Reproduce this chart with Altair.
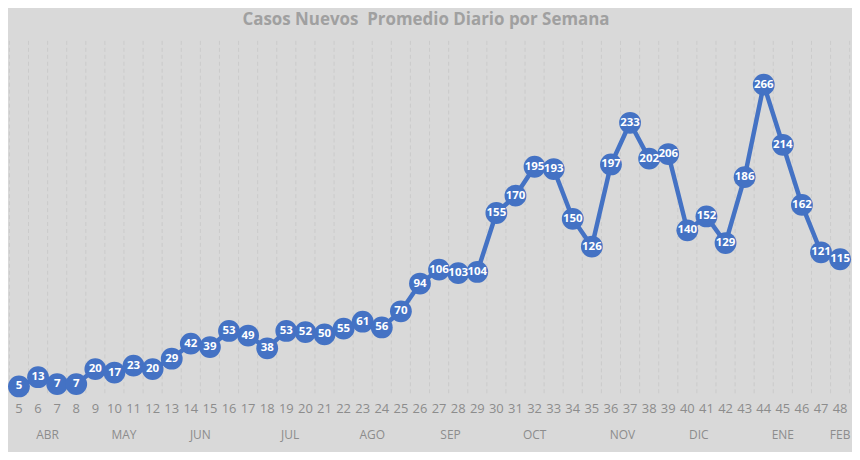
import altair as alt
import pandas as pd

weeks = list(range(5, 49))
cases = [5, 13, 7, 7, 20, 17, 23, 20, 29, 42, 39, 53, 49, 38, 53, 52, 50, 55, 61, 56,
         70, 94, 106, 103, 104, 155, 170, 195, 193, 150, 126, 197, 233, 202, 206, 140,
         152, 129, 186, 266, 214, 162, 121, 115]

months = ["ABR", "MAY", "JUN", "JUL", "AGO", "SEP", "OCT", "NOV", "DIC", "ENE", "FEB"]
month_pos = [6.5, 10.5, 14.5, 19.2, 23.5, 27.6, 32, 36.6, 40.6, 45, 48]

title_text = "Casos Nuevos\u00a0 Promedio Diario por Semana"

bg = "#d9d9d9"
blue = "#4472c4"
label_gray = "#8c8c8c"

df = pd.DataFrame({"semana": weeks, "casos": cases})
grid = pd.DataFrame({"g": [w - 0.5 for w in weeks] + [weeks[-1] + 0.5]})
mdf = pd.DataFrame({"mes": months, "pos": month_pos})

xs = alt.Scale(domain=[4.583, 48.57], nice=False, zero=False)
ys = alt.Scale(domain=[-50.8, 331.4], nice=False, zero=False)

base = alt.Chart(df)

gridlines = alt.Chart(grid).mark_rule(
    color="#cbcbcb", strokeDash=[4, 3], strokeWidth=1
).encode(
    x=alt.X("g:Q", scale=xs, axis=None),
    y=alt.value(32),
    y2=alt.value(388),
)

line = base.mark_line(color=blue, strokeWidth=4.5).encode(
    x=alt.X("semana:Q", scale=xs, axis=None),
    y=alt.Y("casos:Q", scale=ys, axis=None),
)

points = base.mark_circle(color=blue, opacity=1, size=480).encode(
    x=alt.X("semana:Q", scale=xs, axis=None),
    y=alt.Y("casos:Q", scale=ys, axis=None),
)

point_labels = base.mark_text(
    color="white", fontWeight="bold", fontSize=11.5, font="Open Sans", baseline="middle"
).encode(
    x=alt.X("semana:Q", scale=xs, axis=None),
    y=alt.Y("casos:Q", scale=ys, axis=None),
    text="casos:Q",
)

week_labels = base.mark_text(
    color=label_gray, fontSize=13, font="Open Sans", baseline="middle"
).encode(
    x=alt.X("semana:Q", scale=xs, axis=None),
    y=alt.value(402),
    text="semana:Q",
)

month_labels = alt.Chart(mdf).mark_text(
    color=label_gray, fontSize=12, font="Open Sans", baseline="middle"
).encode(
    x=alt.X("pos:Q", scale=xs, axis=None),
    y=alt.value(428),
    text="mes:N",
)

title = alt.Chart(pd.DataFrame({"t": [title_text]})).mark_text(
    color="#a0a0a0", fontSize=17, fontWeight="bold", font="Open Sans", baseline="middle"
).encode(
    x=alt.value(417),
    y=alt.value(11),
    text="t:N",
)

chart = alt.layer(
    gridlines, line, points, point_labels, week_labels, month_labels, title
).properties(
    width=844, height=444, padding=0, background=bg
).configure_view(stroke=None)

chart.save("out.html", embed_options={"renderer": "svg", "actions": False})
